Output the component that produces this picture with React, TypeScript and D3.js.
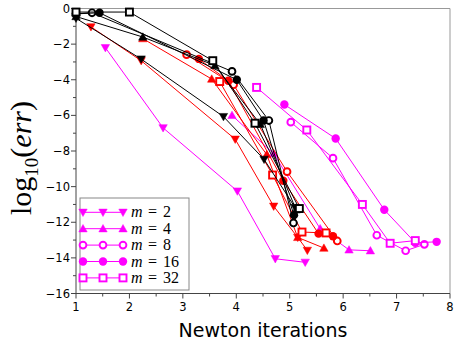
import React from "react";
import * as d3 from "d3";

// Newton iterations vs log10(err); series per colour (method) and marker (m)
const mValues = [2, 4, 8, 16, 32];
const xTickValues = [1, 2, 3, 4, 5, 6, 7, 8];
const yTickValues = [0, -2, -4, -6, -8, -10, -12, -14, -16];

const magentaM2 = [[1.55, -2.2], [2.63, -6.7], [4.02, -10.25], [4.73, -14.05], [5.29, -14.25]];
const magentaM4 = [[3.92, -6.0], [4.7, -8.15], [5.57, -12.36], [6.11, -13.55], [6.51, -13.6]];
const magentaM8 = [[5.02, -6.38], [5.81, -8.4], [6.63, -12.73], [7.17, -13.6], [7.52, -13.24]];
const magentaM16 = [[4.9, -5.39], [5.86, -7.3], [6.77, -11.3], [7.35, -13.15], [7.75, -13.1]];
const magentaM32 = [[4.38, -4.43], [5.32, -6.82], [6.36, -11.0], [6.88, -13.18], [7.35, -13.03]];

const redM2 = [[1.28, -1.03], [2.22, -2.93], [3.98, -7.34], [4.7, -11.1], [5.15, -12.85], [5.33, -13.58]];
const redM4 = [[2.25, -1.69], [3.54, -3.96], [4.57, -8.2], [5.15, -12.85], [5.64, -13.45]];
const redM8 = [[3.07, -2.59], [3.95, -4.28], [4.95, -9.16], [5.89, -13.05]];
const redM16 = [[3.3, -2.83], [3.85, -4.06], [4.88, -9.67], [5.54, -12.64], [5.81, -12.79]];
const redM32 = [[3.69, -4.1], [4.68, -9.35], [5.23, -12.55], [5.68, -12.6]];

const blackM2 = [[1, -0.55], [2.22, -2.84], [3.76, -6.07], [4.52, -8.47], [5.1, -11.17]];
const blackM4 = [[1, -0.45], [2.25, -1.6], [3.6, -3.2], [4.45, -6.5], [5.12, -11.3]];
const blackM8 = [[1, -0.3], [1.3, -0.24], [3.92, -3.53], [4.61, -6.29], [5.07, -12.04]];
const blackM16 = [[1, -0.3], [1.44, -0.24], [4.01, -4.0], [4.51, -6.29], [5.08, -11.6]];
const blackM32 = [[1, -0.2], [2.0, -0.2], [3.56, -2.93], [4.35, -6.44], [5.18, -11.23]];

const markerKinds = ["down", "up", "ocircle", "fcircle", "osquare"];

const groups = [
  { color: "#ff00ff", series: [magentaM2, magentaM4, magentaM8, magentaM16, magentaM32] },
  { color: "#ff0000", series: [redM2, redM4, redM8, redM16, redM32] },
  { color: "#000000", series: [blackM2, blackM4, blackM8, blackM16, blackM32] },
];

const W = 454, H = 349;
const L = 76, R = 450, T = 8.5, B = 293.5;

function Marker({ kind, cx, cy, color }: { kind: string; cx: number; cy: number; color: string }) {
  if (kind === "down") {
    return <path d={`M${cx - 4.2},${cy - 3.2}L${cx + 4.2},${cy - 3.2}L${cx},${cy + 4.2}Z`} fill={color} stroke={color} strokeWidth={0.5} />;
  }
  if (kind === "up") {
    return <path d={`M${cx - 4.2},${cy + 3.2}L${cx + 4.2},${cy + 3.2}L${cx},${cy - 4.2}Z`} fill={color} stroke={color} strokeWidth={0.5} />;
  }
  if (kind === "ocircle") {
    return <circle cx={cx} cy={cy} r={3.4} fill="#fff" stroke={color} strokeWidth={1.9} />;
  }
  if (kind === "fcircle") {
    return <circle cx={cx} cy={cy} r={4.2} fill={color} />;
  }
  return <rect x={cx - 3.5} y={cy - 3.5} width={7} height={7} fill="#fff" stroke={color} strokeWidth={1.9} />;
}

export default function App() {
  const x = d3.scaleLinear().domain([1, 8]).range([L, R]);
  const y = d3.scaleLinear().domain([-16, 0]).range([B, T]);
  const line = d3.line<number[]>().x((d) => x(d[0])).y((d) => y(d[1]));

  const xMinor = d3.range(1, 8.01, 0.5);
  const yMinor = d3.range(-16, 0.01, 1);

  const legX = 80, legY = 198, legW = 109, legH = 92;
  const rowH = 16.4;

  return (
    <svg width={W} height={H} style={{ position: "absolute", left: 0, top: 0 }} fontFamily="DejaVu Sans">
      <rect x={0} y={0} width={W} height={H} fill="#fff" />
      {/* frame */}
      <line x1={L} y1={T} x2={R} y2={T} stroke="#999" strokeWidth={1} />
      <line x1={R} y1={T} x2={R} y2={B} stroke="#999" strokeWidth={1} />
      <line x1={L} y1={T} x2={L} y2={B} stroke="#444" strokeWidth={1} />
      <line x1={L} y1={B} x2={R} y2={B} stroke="#444" strokeWidth={1} />
      {/* x ticks */}
      {xMinor.map((v) => (
        <line key={"xm" + v} x1={x(v)} x2={x(v)} y1={B} y2={B + (Number.isInteger(v) ? 5 : 3)} stroke="#444" />
      ))}
      {xTickValues.map((v) => (
        <text key={"xt" + v} x={x(v)} y={B + 17} fontSize={11.5} textAnchor="middle" fill="#000">{v}</text>
      ))}
      {/* y ticks */}
      {yMinor.map((v) => (
        <line key={"ym" + v} x1={L} x2={L - (v % 2 === 0 ? 5 : 3)} y1={y(v)} y2={y(v)} stroke="#444" />
      ))}
      {yTickValues.map((v) => (
        <text key={"yt" + v} x={L - 6} y={y(v) + 4} fontSize={11.5} textAnchor="end" fill="#000">{v < 0 ? "\u2212" + Math.abs(v) : v}</text>
      ))}
      {/* axis titles */}
      <text x={263} y={337} fontSize={19} textAnchor="middle" fill="#000">Newton iterations</text>
      <text transform="translate(31,158) rotate(-90)" fontFamily="Liberation Serif" fontSize={30} textAnchor="middle" fill="#000">
        log<tspan fontSize={19} dy={7}>10</tspan><tspan dy={-7}>(</tspan><tspan fontStyle="italic">err</tspan>)
      </text>
      {/* series */}
      {groups.map((g, gi) => (
        <g key={"g" + gi}>
          {g.series.map((s, si) => (
            <g key={"s" + si}>
              <path d={line(s) || ""} fill="none" stroke={g.color} strokeWidth={1} />
              {s.map((p, pi) => (
                <Marker key={pi} kind={markerKinds[si]} cx={x(p[0])} cy={y(p[1])} color={g.color} />
              ))}
            </g>
          ))}
        </g>
      ))}
      {/* legend */}
      <rect x={legX} y={legY} width={legW} height={legH} fill="#fff" stroke="#888" strokeWidth={1} />
      {mValues.map((m, i) => {
        const cy = legY + 14.3 + i * rowH;
        return (
          <g key={"leg" + m} fontFamily="Liberation Serif" fontSize={16} fill="#000">
            <line x1={83} x2={123} y1={cy} y2={cy} stroke="#ff00ff" strokeWidth={1} />
            {[83, 103, 123].map((cx) => (
              <Marker key={cx} kind={markerKinds[i]} cx={cx} cy={cy} color="#ff00ff" />
            ))}
            <text x={131} y={cy + 5} fontStyle="italic">m</text>
            <text x={148} y={cy + 5}>=</text>
            <text x={163} y={cy + 5}>{m}</text>
          </g>
        );
      })}
    </svg>
  );
}
